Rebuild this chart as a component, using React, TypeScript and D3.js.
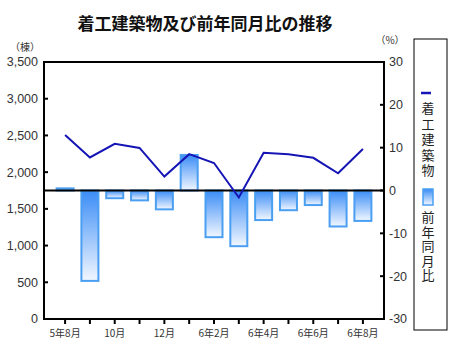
import React from "react";
import * as d3 from "d3";

const categories = ["5年8月", "9月", "10月", "11月", "12月", "6年1月", "6年2月", "6年3月", "6年4月", "6年5月", "6年6月", "6年7月", "6年8月"];
const xTickLabels = ["5年8月", "", "10月", "", "12月", "", "6年2月", "", "6年4月", "", "6年6月", "", "6年8月"];
const buildings = [2505, 2200, 2385, 2330, 1940, 2245, 2125, 1655, 2265, 2245, 2195, 1985, 2315];
const yoy = [0.5, -21.1, -1.8, -2.3, -4.4, 8.3, -10.9, -13.0, -6.9, -4.6, -3.4, -8.4, -7.1];
const leftTicks = [0, 500, 1000, 1500, 2000, 2500, 3000, 3500];
const rightTicks = [-30, -20, -10, 0, 10, 20, 30];
const title = "着工建築物及び前年同月比の推移";
const legendLine = "着工建築物";
const legendBar = "前年同月比";

const W = 464, H = 358;
const L = 44, R = 384, T = 62, B = 319;
const numFont = "'Liberation Sans', Arial, sans-serif";
const jpFont = "'Noto Sans CJK JP', sans-serif";
const lineColor = "#1515b5";

export default function App() {
  const x = d3.scalePoint<string>().domain(categories).range([L, R]).padding(0.85);
  const yL = d3.scaleLinear().domain([0, 3500]).range([B, T]);
  const yR = d3.scaleLinear().domain([-30, 30]).range([B, T]);
  const line = d3.line<number>().x((_, i) => x(categories[i])!).y((d) => yL(d));
  const bw = 17;
  return (
    <svg width={W} height={H} style={{ position: "absolute", left: 0, top: 0, background: "#fff" }}>
      <defs>
        <linearGradient id="barGrad" x1="0" y1="0" x2="0" y2="1">
          <stop offset="0" stopColor="#3a8cf6" />
          <stop offset="1" stopColor="#f2f7ff" />
        </linearGradient>
      </defs>
      <text x={205} y={30} textAnchor="middle" fontFamily={jpFont} fontWeight="bold" fontSize={17} fill="#111">{title}</text>
      <text x={25} y={51} textAnchor="middle" fontFamily={jpFont} fontSize={10} fill="#333">（棟）</text>
      <text x={390} y={44} textAnchor="middle" fontFamily={jpFont} fontSize={10} fill="#333">（%）</text>
      {yoy.map((v, i) => {
        const cx = x(categories[i])!;
        const y0 = yR(0), y1 = yR(v);
        return (
          <rect key={i} x={cx - bw / 2} y={Math.min(y0, y1)} width={bw} height={Math.abs(y1 - y0)}
            fill="url(#barGrad)" stroke="#4a9ff2" strokeWidth={2} />
        );
      })}
      <line x1={L} x2={R} y1={yR(0)} y2={yR(0)} stroke="#000" strokeWidth={2} />
      <path d={line(buildings)!} fill="none" stroke={lineColor} strokeWidth={2} />
      <rect x={L} y={T} width={R - L} height={B - T} fill="none" stroke="#000" strokeWidth={2} />
      {leftTicks.map((t) => (
        <g key={"l" + t}>
          <line x1={L} x2={L + 4} y1={yL(t)} y2={yL(t)} stroke="#000" strokeWidth={2} />
          <text x={38} y={yL(t)} dy="0.35em" textAnchor="end" fontFamily={numFont} fontSize={12.5} fill="#333">{d3.format(",")(t)}</text>
        </g>
      ))}
      {rightTicks.map((t) => (
        <g key={"r" + t}>
          <line x1={R - 4} x2={R} y1={yR(t)} y2={yR(t)} stroke="#000" strokeWidth={2} />
          <text x={389} y={yR(t)} dy="0.35em" textAnchor="start" fontFamily={numFont} fontSize={12.5} fill="#333">{t}</text>
        </g>
      ))}
      {categories.map((c, i) => (
        <g key={"x" + i}>
          <line x1={x(c)!} x2={x(c)!} y1={B} y2={B + 5} stroke="#000" strokeWidth={2} />
          {xTickLabels[i] && (
            <text x={x(c)!} y={337} textAnchor="middle" fontFamily={jpFont} fontSize={10} fill="#333">{xTickLabels[i]}</text>
          )}
        </g>
      ))}
      <rect x={414} y={39} width={33} height={291} fill="#fff" stroke="#000" strokeWidth={1} />
      <line x1={421} x2={431} y1={93} y2={93} stroke={lineColor} strokeWidth={2.5} />
      <text x={428} y={102} writingMode="tb" style={{ writingMode: "vertical-rl" } as any} letterSpacing={2.5} fontFamily={jpFont} fontSize={13} fill="#222">{legendLine}</text>
      <rect x={423} y={189} width={10} height={16} fill="url(#barGrad)" stroke="#4a9ff2" strokeWidth={1.5} />
      <text x={428} y={211} writingMode="tb" style={{ writingMode: "vertical-rl" } as any} letterSpacing={1.5} fontFamily={jpFont} fontSize={13} fill="#222">{legendBar}</text>
    </svg>
  );
}
